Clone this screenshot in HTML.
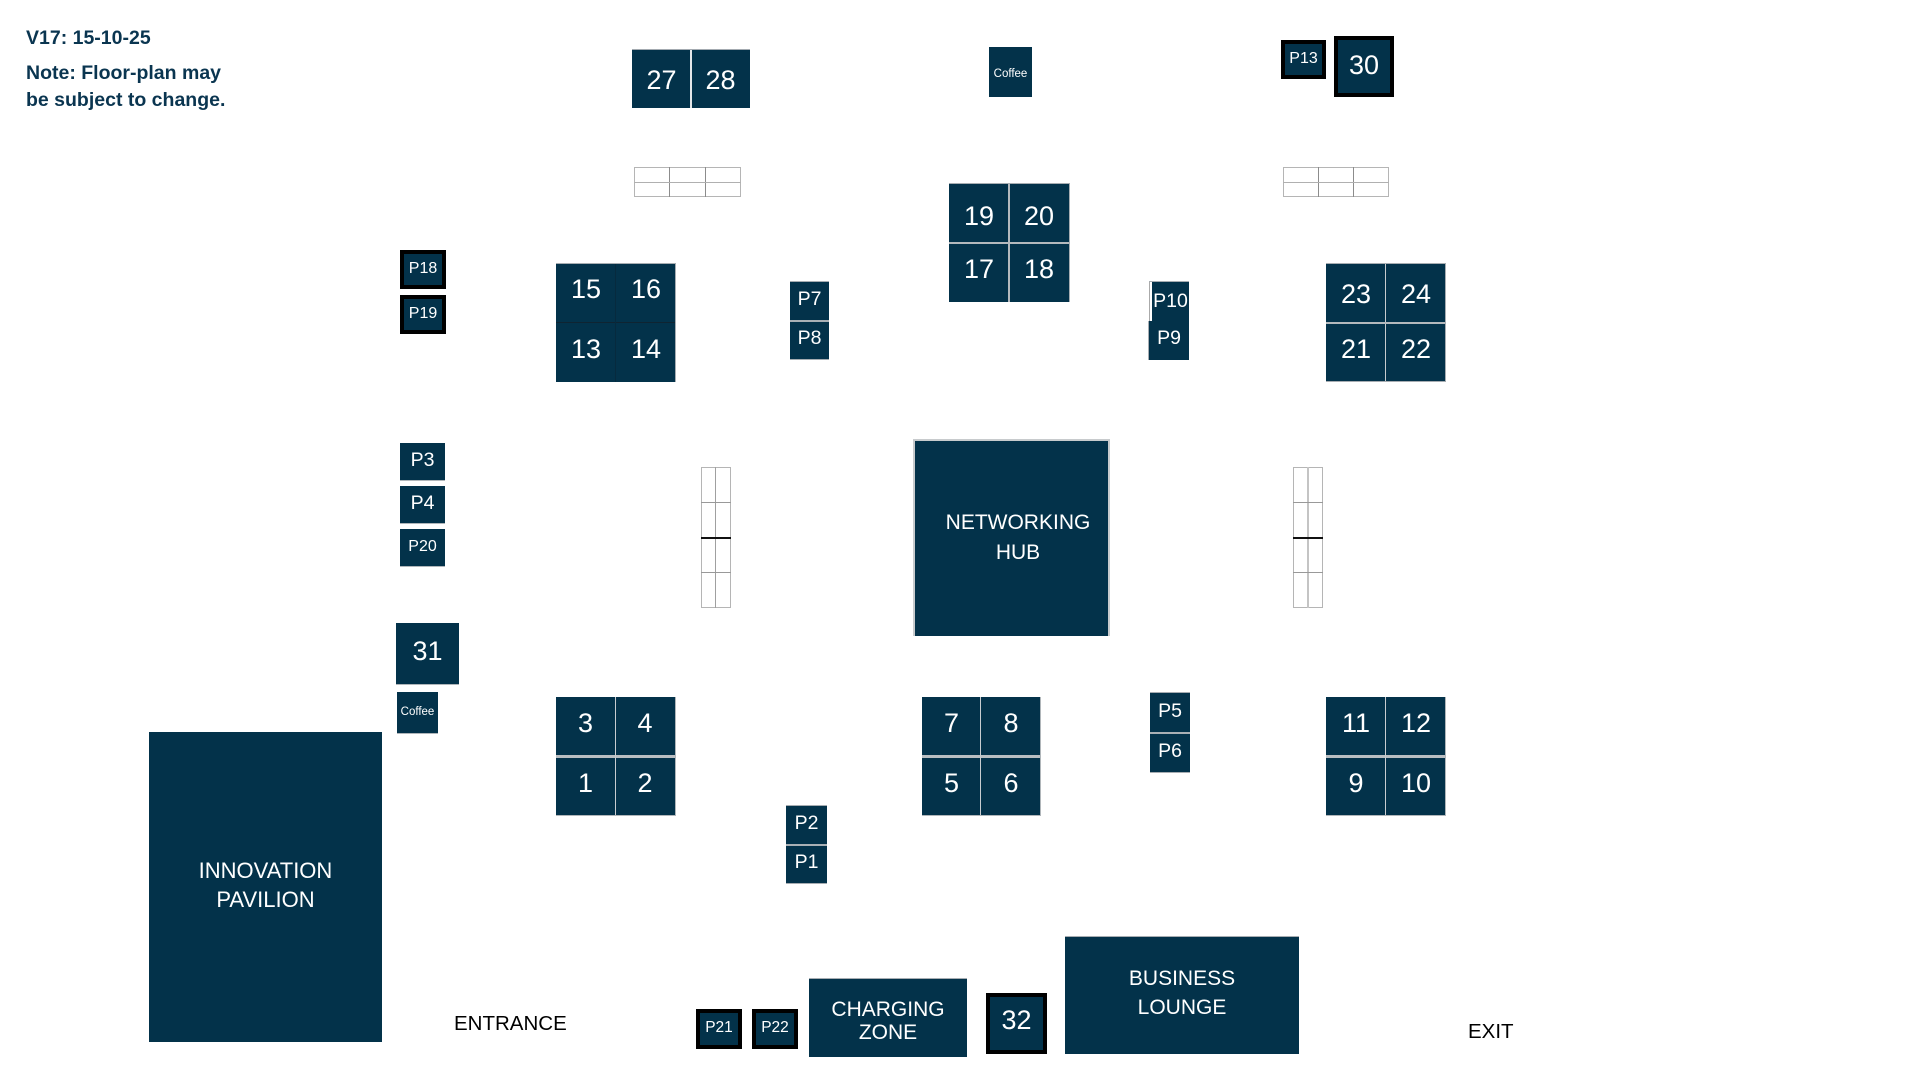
<!DOCTYPE html>
<html>
<head>
<meta charset="utf-8">
<style>
  html,body{margin:0;padding:0;}
  body{width:1920px;height:1080px;position:relative;background:#fff;overflow:hidden;font-family:"Liberation Sans",Arial,sans-serif;}
  .n{position:absolute;background:#03324a;color:#fff;display:flex;align-items:center;justify-content:center;box-sizing:border-box;line-height:1;white-space:nowrap;}
  .big{font-size:27px;padding-bottom:6px;}
  .c0{padding-bottom:0;padding-top:2px;}
  .c2{padding-bottom:0;padding-top:5px;}
  .c1{padding-bottom:8px;}
  .p{font-size:19.5px;padding-bottom:3px;}
  .s{font-size:16px;}
  .k{border:4px solid #000;}
  .l{position:absolute;}
  .t{position:absolute;text-align:center;color:#fff;white-space:nowrap;}
  .g{position:absolute;box-sizing:border-box;border:1px solid #b5b5b5;}
</style>
</head>
<body>

<!-- Header text -->
<div style="position:absolute;left:26px;top:29px;font-size:19.5px;line-height:19px;font-weight:bold;color:#0a3550;">V17: 15-10-25</div>
<div style="position:absolute;left:26px;top:60px;font-size:19.5px;line-height:26.5px;font-weight:bold;color:#0a3550;">Note: Floor-plan may<br>be subject to change.</div>

<!-- 27 / 28 -->
<div class="n big c0" style="left:632px;top:50px;width:59px;height:58px;">27</div>
<div class="n big c0" style="left:691px;top:50px;width:59px;height:58px;">28</div>
<div class="l" style="left:690px;top:50px;width:2px;height:58px;background:#e4e6e8;"></div>
<div class="l" style="left:632px;top:49px;width:118px;height:1px;background:#a3aab0;"></div>

<!-- top-left grid -->
<div class="g" style="left:634px;top:167px;width:107px;height:30px;"></div>
<div class="l" style="left:669px;top:167px;width:1px;height:30px;background:#8c8c8c;"></div>
<div class="l" style="left:705px;top:167px;width:1px;height:30px;background:#8c8c8c;"></div>
<div class="l" style="left:634px;top:182px;width:107px;height:1px;background:#b0b0b0;"></div>

<!-- Coffee top -->
<div class="n" style="left:989px;top:47px;width:43px;height:50px;font-size:11.5px;padding-top:6px;">Coffee</div>

<!-- P13 & 30 -->
<div class="n k s" style="left:1281px;top:40px;width:45px;height:39px;padding-bottom:2px;">P13</div>
<div class="n k big" style="left:1334px;top:36px;width:60px;height:61px;padding-bottom:2px;">30</div>

<!-- top-right grid -->
<div class="g" style="left:1283px;top:167px;width:106px;height:30px;"></div>
<div class="l" style="left:1318px;top:167px;width:1px;height:30px;background:#8c8c8c;"></div>
<div class="l" style="left:1353px;top:167px;width:1px;height:30px;background:#8c8c8c;"></div>
<div class="l" style="left:1283px;top:182px;width:106px;height:1px;background:#b0b0b0;"></div>

<!-- 19 20 17 18 -->
<div class="n big c2" style="left:949px;top:184px;width:60px;height:59px;">19</div>
<div class="n big c2" style="left:1009px;top:184px;width:60px;height:59px;">20</div>
<div class="n big" style="left:949px;top:243px;width:60px;height:59px;">17</div>
<div class="n big" style="left:1009px;top:243px;width:60px;height:59px;">18</div>
<div class="l" style="left:1008px;top:184px;width:2px;height:118px;background:#b4b9bd;"></div>
<div class="l" style="left:949px;top:242px;width:120px;height:2px;background:#b4b9bd;"></div>
<div class="l" style="left:949px;top:183px;width:120px;height:1px;background:#a7adb2;"></div>
<div class="l" style="left:1069px;top:183px;width:1px;height:119px;background:#a7adb2;"></div>

<!-- 15 16 13 14 -->
<div class="n big c1" style="left:556px;top:264px;width:60px;height:59px;">15</div>
<div class="n big c1" style="left:616px;top:264px;width:60px;height:59px;">16</div>
<div class="n big" style="left:556px;top:323px;width:60px;height:59px;">13</div>
<div class="n big" style="left:616px;top:323px;width:60px;height:59px;">14</div>
<div class="l" style="left:556px;top:322px;width:120px;height:1px;background:#0f2432;"></div>
<div class="l" style="left:615px;top:264px;width:1px;height:118px;background:#062a3e;"></div>
<div class="l" style="left:556px;top:263px;width:120px;height:1px;background:#a7adb2;"></div>
<div class="l" style="left:675px;top:263px;width:1px;height:119px;background:#a7adb2;"></div>

<!-- P7 P8 -->
<div class="n p" style="left:790px;top:282px;width:39px;height:39px;">P7</div>
<div class="n p" style="left:790px;top:321px;width:39px;height:39px;">P8</div>
<div class="l" style="left:790px;top:320px;width:39px;height:2px;background:#a9b0b5;"></div>
<div class="l" style="left:790px;top:281px;width:39px;height:1px;background:#a7adb2;"></div>
<div class="l" style="left:790px;top:359px;width:39px;height:1px;background:#a7adb2;"></div>

<!-- P10 P9 -->
<div class="l" style="left:1149px;top:282px;width:3px;height:39px;background:#fff;border-left:1px solid #aaa;box-sizing:border-box;"></div>
<div class="n p" style="left:1152px;top:282px;width:37px;height:39px;overflow:visible;padding-bottom:0;">P10</div>
<div class="n p" style="left:1149px;top:321px;width:40px;height:39px;">P9</div>
<div class="l" style="left:1149px;top:281px;width:40px;height:1px;background:#a7adb2;"></div>
<div class="l" style="left:1148px;top:321px;width:1px;height:39px;background:#a7adb2;"></div>

<!-- 23 24 21 22 -->
<div class="n big c0" style="left:1326px;top:264px;width:60px;height:59px;">23</div>
<div class="n big c0" style="left:1386px;top:264px;width:60px;height:59px;">24</div>
<div class="n big" style="left:1326px;top:323px;width:60px;height:59px;">21</div>
<div class="n big" style="left:1386px;top:323px;width:60px;height:59px;">22</div>
<div class="l" style="left:1385px;top:264px;width:1px;height:118px;background:#c6cacd;"></div>
<div class="l" style="left:1326px;top:322px;width:120px;height:2px;background:#b4b9bd;"></div>
<div class="l" style="left:1326px;top:263px;width:120px;height:1px;background:#a7adb2;"></div>
<div class="l" style="left:1445px;top:263px;width:1px;height:119px;background:#a7adb2;"></div>
<div class="l" style="left:1326px;top:381px;width:120px;height:1px;background:#a7adb2;"></div>

<!-- Left column -->
<div class="n k s" style="left:400px;top:250px;width:46px;height:39px;padding-bottom:2px;">P18</div>
<div class="n k s" style="left:400px;top:295px;width:46px;height:39px;padding-bottom:2px;">P19</div>
<div class="n p" style="left:400px;top:443px;width:45px;height:38px;">P3</div>
<div class="n p" style="left:400px;top:486px;width:45px;height:38px;">P4</div>
<div class="n s" style="left:400px;top:529px;width:45px;height:38px;padding-bottom:3px;">P20</div>
<div class="l" style="left:400px;top:480px;width:45px;height:1px;background:#b0b6ba;"></div>
<div class="l" style="left:400px;top:523px;width:45px;height:1px;background:#b0b6ba;"></div>
<div class="l" style="left:400px;top:566px;width:45px;height:1px;background:#b0b6ba;"></div>
<div class="n big" style="left:396px;top:623px;width:63px;height:62px;">31</div>
<div class="l" style="left:396px;top:684px;width:63px;height:1px;background:#b0b6ba;"></div>
<div class="n" style="left:397px;top:692px;width:41px;height:42px;font-size:11.5px;">Coffee</div>
<div class="l" style="left:397px;top:733px;width:41px;height:1px;background:#b0b6ba;"></div>

<!-- Left vertical grid -->
<div class="g" style="left:701px;top:467px;width:30px;height:141px;"></div>
<div class="l" style="left:715px;top:467px;width:1px;height:141px;background:#a0a0a0;"></div>
<div class="l" style="left:701px;top:502px;width:30px;height:1px;background:#999;"></div>
<div class="l" style="left:701px;top:537px;width:30px;height:2px;background:#111;"></div>
<div class="l" style="left:701px;top:572px;width:30px;height:1px;background:#999;"></div>

<!-- Right vertical grid -->
<div class="g" style="left:1293px;top:467px;width:30px;height:141px;"></div>
<div class="l" style="left:1307px;top:467px;width:2px;height:141px;background:#c4c4c4;"></div>
<div class="l" style="left:1293px;top:502px;width:30px;height:1px;background:#999;"></div>
<div class="l" style="left:1293px;top:537px;width:30px;height:2px;background:#111;"></div>
<div class="l" style="left:1293px;top:572px;width:30px;height:1px;background:#999;"></div>

<!-- Networking hub -->
<div class="n" style="left:913px;top:439px;width:197px;height:197px;border-left:2px solid #c8cbcd;border-top:2px solid #c8cbcd;border-right:2px solid #c8cbcd;"></div>
<div class="t" style="left:918px;top:508px;width:200px;font-size:21px;line-height:30px;">NETWORKING<br>HUB</div>

<!-- Innovation pavilion -->
<div class="n" style="left:149px;top:732px;width:233px;height:310px;"></div>
<div class="t" style="left:165px;top:856px;width:201px;font-size:22px;line-height:29px;">INNOVATION<br>PAVILION</div>

<!-- 3 4 1 2 -->
<div class="n big" style="left:556px;top:697px;width:59px;height:59px;">3</div>
<div class="n big" style="left:615px;top:697px;width:60px;height:59px;">4</div>
<div class="n big" style="left:556px;top:756px;width:59px;height:60px;">1</div>
<div class="n big" style="left:615px;top:756px;width:60px;height:60px;">2</div>
<div class="l" style="left:556px;top:755px;width:120px;height:3px;background:#b9bec2;"></div>
<div class="l" style="left:615px;top:697px;width:1px;height:119px;background:#c8ccd0;"></div>
<div class="l" style="left:675px;top:697px;width:1px;height:119px;background:#b0b6ba;"></div>
<div class="l" style="left:556px;top:815px;width:120px;height:1px;background:#b0b6ba;"></div>

<!-- 7 8 5 6 -->
<div class="n big" style="left:922px;top:697px;width:59px;height:59px;">7</div>
<div class="n big" style="left:981px;top:697px;width:60px;height:59px;">8</div>
<div class="n big" style="left:922px;top:756px;width:59px;height:60px;">5</div>
<div class="n big" style="left:981px;top:756px;width:60px;height:60px;">6</div>
<div class="l" style="left:922px;top:755px;width:119px;height:3px;background:#b9bec2;"></div>
<div class="l" style="left:980px;top:697px;width:1px;height:119px;background:#c8ccd0;"></div>
<div class="l" style="left:1040px;top:697px;width:1px;height:119px;background:#b0b6ba;"></div>
<div class="l" style="left:922px;top:815px;width:119px;height:1px;background:#b0b6ba;"></div>

<!-- 11 12 9 10 -->
<div class="n big" style="left:1326px;top:697px;width:60px;height:59px;">11</div>
<div class="n big" style="left:1386px;top:697px;width:60px;height:59px;">12</div>
<div class="n big" style="left:1326px;top:756px;width:60px;height:60px;">9</div>
<div class="n big" style="left:1386px;top:756px;width:60px;height:60px;">10</div>
<div class="l" style="left:1326px;top:755px;width:120px;height:3px;background:#b9bec2;"></div>
<div class="l" style="left:1385px;top:697px;width:1px;height:119px;background:#c8ccd0;"></div>
<div class="l" style="left:1445px;top:697px;width:1px;height:119px;background:#b0b6ba;"></div>
<div class="l" style="left:1326px;top:815px;width:120px;height:1px;background:#b0b6ba;"></div>

<!-- P5 P6 -->
<div class="n p" style="left:1150px;top:693px;width:40px;height:40px;">P5</div>
<div class="n p" style="left:1150px;top:733px;width:40px;height:40px;">P6</div>
<div class="l" style="left:1150px;top:732px;width:40px;height:2px;background:#a9b0b5;"></div>
<div class="l" style="left:1150px;top:692px;width:40px;height:1px;background:#a7adb2;"></div>
<div class="l" style="left:1150px;top:772px;width:40px;height:1px;background:#a7adb2;"></div>

<!-- P2 P1 -->
<div class="n p" style="left:786px;top:806px;width:41px;height:39px;">P2</div>
<div class="n p" style="left:786px;top:845px;width:41px;height:39px;">P1</div>
<div class="l" style="left:786px;top:844px;width:41px;height:2px;background:#a9b0b5;"></div>
<div class="l" style="left:786px;top:805px;width:41px;height:1px;background:#a7adb2;"></div>
<div class="l" style="left:786px;top:883px;width:41px;height:1px;background:#a7adb2;"></div>

<!-- Bottom row -->
<div style="position:absolute;left:454px;top:1012px;font-size:20.5px;line-height:24px;color:#000;white-space:nowrap;">ENTRANCE</div>
<div class="n k" style="left:696px;top:1009px;width:46px;height:40px;font-size:15.5px;padding-bottom:2px;">P21</div>
<div class="n k" style="left:752px;top:1009px;width:46px;height:40px;font-size:15.5px;padding-bottom:2px;">P22</div>

<div class="n" style="left:809px;top:978px;width:158px;height:79px;border-top:1px solid #a7adb2;"></div>
<div class="t" style="left:788px;top:999px;width:200px;font-size:21px;line-height:22.5px;">CHARGING<br>ZONE</div>

<div class="n k big" style="left:986px;top:993px;width:61px;height:61px;padding-bottom:7px;">32</div>

<div class="n" style="left:1065px;top:936px;width:234px;height:118px;border-top:1px solid #a7adb2;"></div>
<div class="t" style="left:1082px;top:964px;width:200px;font-size:21px;line-height:29px;">BUSINESS<br>LOUNGE</div>

<div style="position:absolute;left:1468px;top:1020px;font-size:20.5px;line-height:24px;color:#000;white-space:nowrap;">EXIT</div>

</body>
</html>
